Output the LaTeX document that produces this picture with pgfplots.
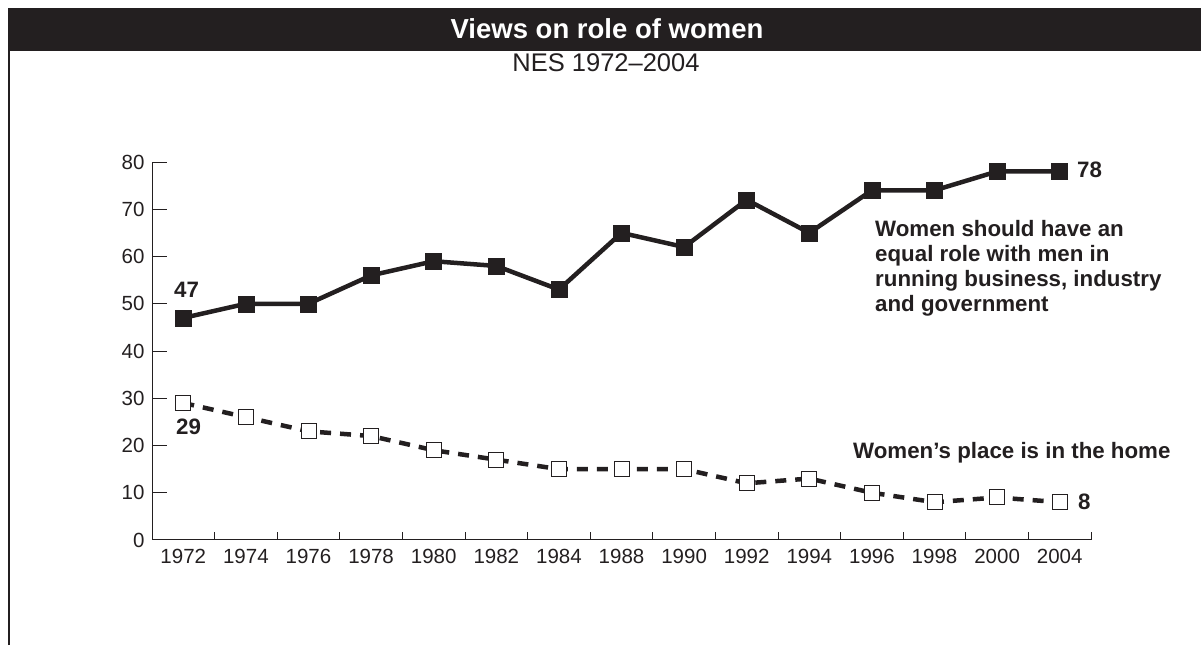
\documentclass[border=0pt]{standalone}
\usepackage{fontspec}
\setmainfont{Liberation Sans}
\usepackage{pgfplots}
\pgfplotsset{compat=1.18}
\definecolor{ink}{HTML}{231F20}
\begin{document}
\begin{tikzpicture}[x=1pt,y=1pt]
\path[use as bounding box] (0,0) rectangle (1201,645);
\fill[ink] (8,594) rectangle (1201,637);
\draw[ink, line width=1.5pt] (9,0) -- (9,594);
\node[text=white, font=\bfseries\fontsize{27.5}{32}\selectfont, anchor=base, inner sep=0] at (607,606) {Views on role of women};
\node[text=ink, font=\fontsize{25.5}{30}\selectfont, anchor=base, inner sep=0] at (606,573) {NES 1972--2004};
\begin{axis}[
  at={(152pt,105pt)}, anchor=south west,
  scale only axis, width=939pt, height=378pt,
  xmin=-0.5, xmax=14.5, ymin=0, ymax=80,
  axis x line=bottom, axis y line=left,
  axis line style={-, ink, line width=1pt},
  xtick={-0.5,0.5,...,14.5},
  x tick label as interval,
  xticklabels={1972,1974,1976,1978,1980,1982,1984,1988,1990,1992,1994,1996,1998,2000,2004},
  ytick={0,10,...,80},
  tick align=inside,
  major tick length=15pt,
  xtick style={ink, line width=1pt, /pgfplots/major tick length=8pt},
  ytick style={ink, line width=1pt},
  ticklabel style={font=\fontsize{20.5}{24}\selectfont, text=ink},
  xticklabel style={yshift=-6pt},
  yticklabel style={xshift=-4pt},
  /pgf/number format/assume math mode=true,
  clip=false,
]
\addplot[ink, line width=4.5pt, mark=square*, mark size=8pt,
  mark options={solid, line width=0.5pt, draw=ink, fill=ink}]
  coordinates {(0,47) (1,50) (2,50) (3,56) (4,59) (5,58) (6,53) (7,65) (8,62) (9,72) (10,65) (11,74) (12,74) (13,78) (14,78)};
\addplot[ink, line width=4.5pt, dash pattern=on 11pt off 9pt, mark=square*, mark size=7.5pt,
  mark options={solid, line width=1pt, draw=ink, fill=white}]
  coordinates {(0,29) (1,26) (2,23) (3,22) (4,19) (5,17) (6,15) (7,15) (8,15) (9,12) (10,13) (11,10) (12,8) (13,9) (14,8)};
\end{axis}
\begin{scope}[every node/.style={text=ink, inner sep=0, anchor=base west, font=\bfseries\fontsize{22.3}{26}\selectfont}]
\node at (875,408) {Women should have an};
\node at (875,383) {equal role with men in};
\node at (875,358) {running business, industry};
\node at (875,333) {and government};
\node at (853,186) {Women’s place is in the home};
\node at (174,347) {47};
\node at (176,210) {29};
\node at (1077,467) {78};
\node at (1078,135) {8};
\end{scope}
\end{tikzpicture}
\end{document}
